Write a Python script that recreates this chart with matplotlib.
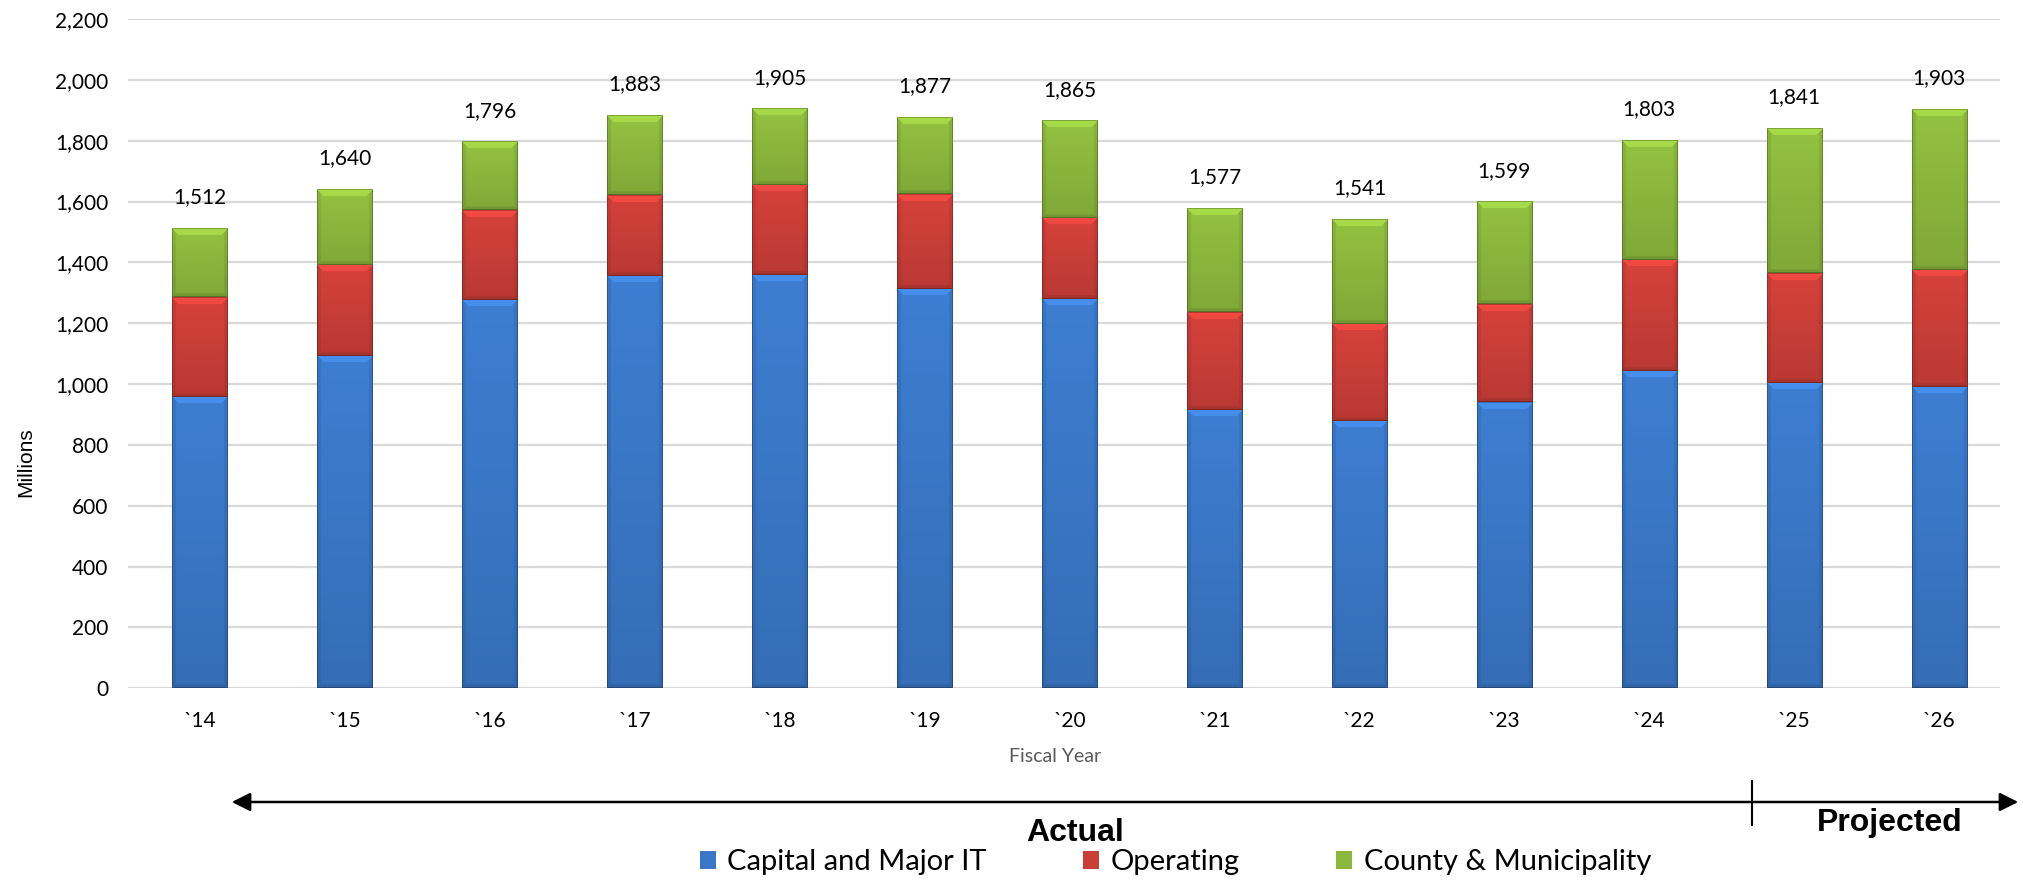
import numpy as np
import matplotlib.pyplot as plt
from matplotlib.colors import to_rgb
from matplotlib.patches import FancyArrowPatch

# Fiscal years and the three funding sources, in millions
years = ["`14", "`15", "`16", "`17", "`18", "`19", "`20",
         "`21", "`22", "`23", "`24", "`25", "`26"]
capital = [958, 1093, 1276, 1355, 1358, 1312, 1279, 914, 878, 940, 1042, 1005, 991]
operating = [328, 300, 295, 266, 296, 312, 267, 322, 321, 322, 367, 360, 385]
county = [226, 247, 225, 262, 251, 253, 319, 341, 342, 337, 394, 476, 527]

series = [
    ("Capital and Major IT", capital, "#3a77c6"),
    ("Operating", operating, "#ca3e38"),
    ("County & Municipality", county, "#8bb73d"),
]

plt.rcParams["font.family"] = ["Lato", "DejaVu Sans"]

fig = plt.figure(figsize=(20.23, 8.81), dpi=100)
ax = fig.add_axes([127.5 / 2023, 0.2187, 1872.5 / 2023, 0.7597])
ax.set_xlim(-0.5, 12.42)
ax.set_ylim(0, 2200)


def bevel_image(h, w, rgb, edge=7):
    # raised-bar look: soft vertical gradient, light top rim, slightly darker sides
    yy, xx = np.mgrid[0:h, 0:w]
    f = 1.06 - 0.14 * yy / max(h - 1, 1)
    dt, db, dl, dr = yy, h - 1 - yy, xx, w - 1 - xx
    m = np.minimum.reduce([dt, db, dl, dr])
    top = (dt == m) & (dt < edge)
    bot = (db == m) & (db < 3) & ~top
    side = (m < 4) & ~top & ~bot
    f = np.where(top, f * 1.13, f)
    f = np.where(bot, f * 0.9, f)
    f = np.where(side, f * 0.93, f)
    f = np.where(m == 0, f * 0.75, f)
    return np.clip(np.array(rgb)[None, None, :] * f[..., None], 0, 1)


x = np.arange(len(years))
bottom = np.zeros(len(years))
for name, vals, color in series:
    bars = ax.bar(x, vals, width=0.38, bottom=bottom, color=color,
                  linewidth=0, label=name, zorder=3)
    for r in bars:
        x0, y0, w, h = r.get_x(), r.get_y(), r.get_width(), r.get_height()
        (px0, py0), (px1, py1) = ax.transData.transform([(x0, y0), (x0 + w, y0 + h)])
        img = bevel_image(max(int(round(py1 - py0)), 2), max(int(round(px1 - px0)), 2),
                          to_rgb(color))
        ax.imshow(img, extent=[x0, x0 + w, y0, y0 + h], aspect="auto",
                  interpolation="bilinear", zorder=3.5)
    bottom += np.array(vals)

totals = bottom
for xi, t in zip(x, totals):
    ax.annotate(f"{int(t):,}", (xi, t), xytext=(0, 18), textcoords="offset points",
                ha="center", va="baseline", fontsize=15, color="black")

ax.set_xlim(-0.5, 12.42)
ax.set_ylim(0, 2200)
ax.set_yticks(np.arange(0, 2201, 200))
ax.yaxis.set_major_formatter(plt.FuncFormatter(lambda v, p: f"{int(v):,}"))
ax.set_xticks(x)
ax.set_xticklabels(years)
ax.tick_params(axis="both", length=0, labelsize=15)
ax.tick_params(axis="y", pad=14)
ax.tick_params(axis="x", pad=16)
ax.grid(axis="y", color="#d9d9d9", linewidth=1.6, zorder=0)
for s in ax.spines.values():
    s.set_visible(False)

fig.text(26 / 2023, 1 - 462 / 881, "Millions", rotation=90, ha="center", va="center",
         fontsize=15, family="Liberation Sans")
fig.text(0.5215, 0.141, "Fiscal Year", ha="center", va="center", fontsize=14, color="#595959")

# Actual / Projected timeline under the axis
ax_y = 1 - 802 / 881
fig.add_artist(FancyArrowPatch(
    (229 / 2023, ax_y), (2021 / 2023, ax_y), transform=fig.transFigure,
    arrowstyle="<|-|>", mutation_scale=28, color="black", linewidth=1.8))
fig.add_artist(plt.Line2D([1752 / 2023] * 2, [1 - 781 / 881, 1 - 825 / 881],
                          transform=fig.transFigure, color="black", linewidth=1.5))
fig.text(1075 / 2023, 1 - 841 / 881, "Actual", ha="center", va="baseline",
         fontsize=23, fontweight="bold", family="Liberation Sans")
fig.text(1890 / 2023, 1 - 831 / 881, "Projected", ha="center", va="baseline",
         fontsize=23, fontweight="bold", family="Liberation Sans")

fig.legend(loc="center", bbox_to_anchor=(0.581, 0.021), ncol=3, frameon=False,
           fontsize=21, handlelength=0.55, handleheight=0.55, handletextpad=0.4,
           columnspacing=3.3, borderpad=0)

fig.savefig("out.png", dpi=100)
